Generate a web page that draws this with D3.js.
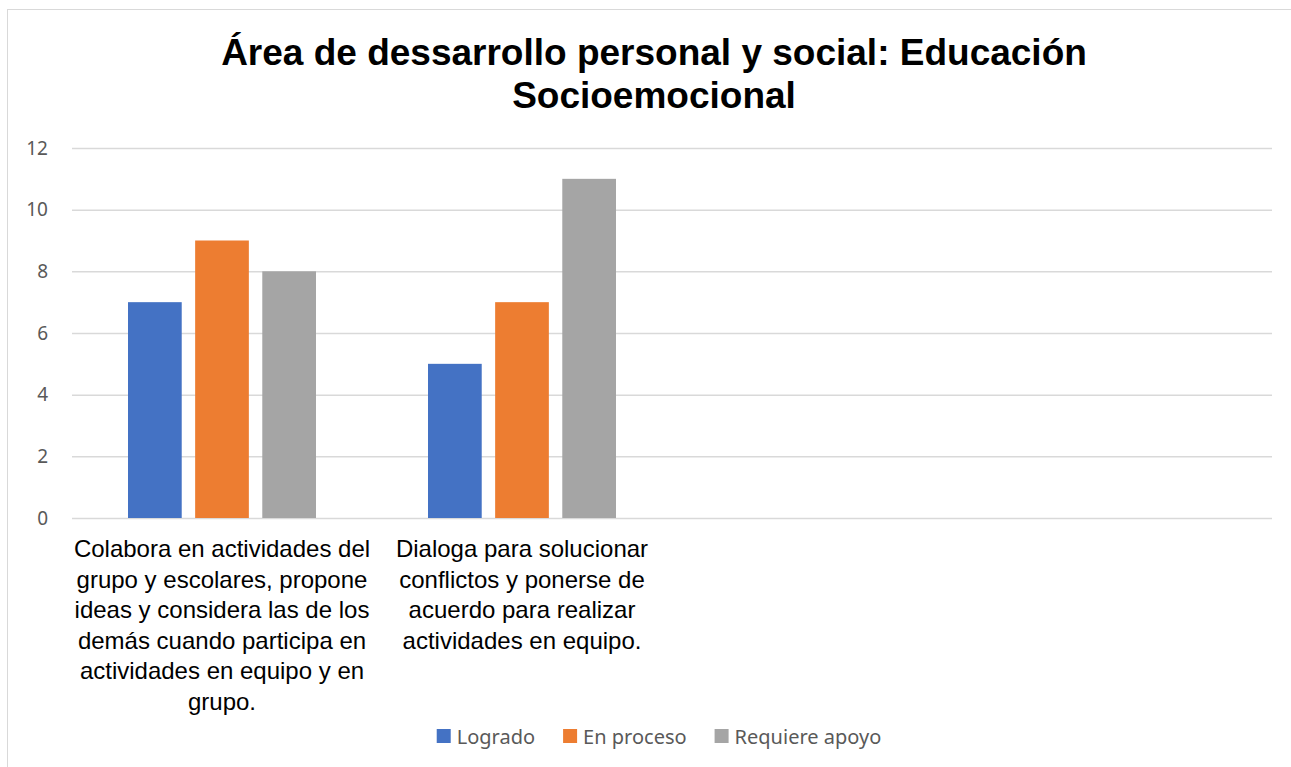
<!DOCTYPE html>
<html>
<head>
<meta charset="utf-8">
<script src="https://cdn.jsdelivr.net/npm/d3@7"></script>
<style>
  body { margin: 0; background: #fff; }
</style>
</head>
<body>
<script>
const titleLines = ['Área de dessarrollo personal y social: Educación', 'Socioemocional'];
const categories = ['c1', 'c2', 'c3', 'c4'];
const categoryLabels = [
  ['Colabora en actividades del', 'grupo y escolares, propone', 'ideas y considera las de los', 'demás cuando participa en', 'actividades en equipo y en', 'grupo.'],
  ['Dialoga para solucionar', 'conflictos y ponerse de', 'acuerdo para realizar', 'actividades en equipo.'],
  [],
  []
];
const series = ['Logrado', 'En proceso', 'Requiere apoyo'];
const colors = ['#4472C4', '#ED7D31', '#A5A5A5'];
const logrado = [7, 5, null, null];
const enProceso = [9, 7, null, null];
const requiereApoyo = [8, 11, null, null];
const yTicks = [0, 2, 4, 6, 8, 10, 12];

const width = 1291;
const height = 767;
const plotLeft = 72;
const plotRight = 1272;
const plotTop = 148;
const plotBottom = 518;
const arial = "'Liberation Sans', Arial, Helvetica, sans-serif";
const calibri = "'Noto Sans', sans-serif";

const svg = d3.select('body').append('svg')
  .attr('width', width)
  .attr('height', height);

svg.append('rect')
  .attr('x', 7.5).attr('y', 9.5)
  .attr('width', width).attr('height', height)
  .attr('fill', '#fff')
  .attr('stroke', '#D9D9D9');

const x0 = d3.scaleBand().domain(categories).range([plotLeft, plotRight]);
const x1 = d3.scaleBand().domain(series).range([56, 244]).paddingInner(0.2);
const y = d3.scaleLinear().domain([0, 12]).range([plotBottom, plotTop]);

// title
svg.append('g').selectAll('text')
  .data(titleLines)
  .enter().append('text')
  .attr('x', 654)
  .attr('y', (d, i) => 65 + i * 43)
  .attr('text-anchor', 'middle')
  .style('font-family', arial)
  .attr('font-weight', 'bold')
  .attr('font-size', 37)
  .attr('fill', '#000')
  .text((d) => d);

// gridlines + y labels
const yAxis = d3.axisLeft(y).tickValues(yTicks).tickSize(-(plotRight - plotLeft)).tickPadding(24);
const gy = svg.append('g')
  .attr('transform', `translate(${plotLeft}, 0)`)
  .call(yAxis);
gy.select('.domain').remove();
gy.selectAll('.tick line').attr('stroke', '#D9D9D9').attr('stroke-width', 1.5);
gy.selectAll('.tick text')
  .style('font-family', calibri)
  .attr('font-size', 19)
  .attr('fill', '#595959');

// bars
const data = categories.map((c, i) => ({
  cat: c,
  values: [logrado[i], enProceso[i], requiereApoyo[i]]
}));

const groups = svg.append('g').selectAll('g')
  .data(data)
  .enter().append('g')
  .attr('transform', (d) => `translate(${x0(d.cat)}, 0)`);

groups.selectAll('rect')
  .data((d) => d.values.map((v, j) => ({ s: series[j], v: v, c: colors[j] })).filter((e) => e.v != null))
  .enter().append('rect')
  .attr('x', (d) => x1(d.s))
  .attr('y', (d) => y(d.v))
  .attr('width', x1.bandwidth())
  .attr('height', (d) => y(0) - y(d.v))
  .attr('fill', (d) => d.c);

// category labels
const labelG = svg.append('g').selectAll('text')
  .data(categories)
  .enter().append('text')
  .attr('text-anchor', 'middle')
  .style('font-family', arial)
  .attr('font-size', 24)
  .attr('fill', '#000');

labelG.selectAll('tspan')
  .data((d, i) => categoryLabels[i].map((t) => ({ t: t, cx: x0(d) + x0.bandwidth() / 2 })))
  .enter().append('tspan')
  .attr('x', (d) => d.cx)
  .attr('y', (d, i) => 557 + i * 30.5)
  .text((d) => d.t);

// legend
const legend = svg.append('g');
const items = legend.selectAll('g')
  .data(series)
  .enter().append('g');
items.append('rect')
  .attr('width', 14).attr('height', 14)
  .attr('y', 729)
  .attr('fill', (d, i) => colors[i]);
items.append('text')
  .attr('x', 20)
  .attr('y', 744)
  .style('font-family', calibri)
  .attr('font-size', 20)
  .attr('fill', '#595959')
  .text((d) => d);

const widths = [];
items.each(function () { widths.push(this.getBBox().width); });
const gap = 28;
const total = d3.sum(widths) + gap * (widths.length - 1);
let cursor = 659 - total / 2;
items.attr('transform', (d, i) => {
  const t = `translate(${cursor}, 0)`;
  cursor += widths[i] + gap;
  return t;
});
</script>
</body>
</html>
